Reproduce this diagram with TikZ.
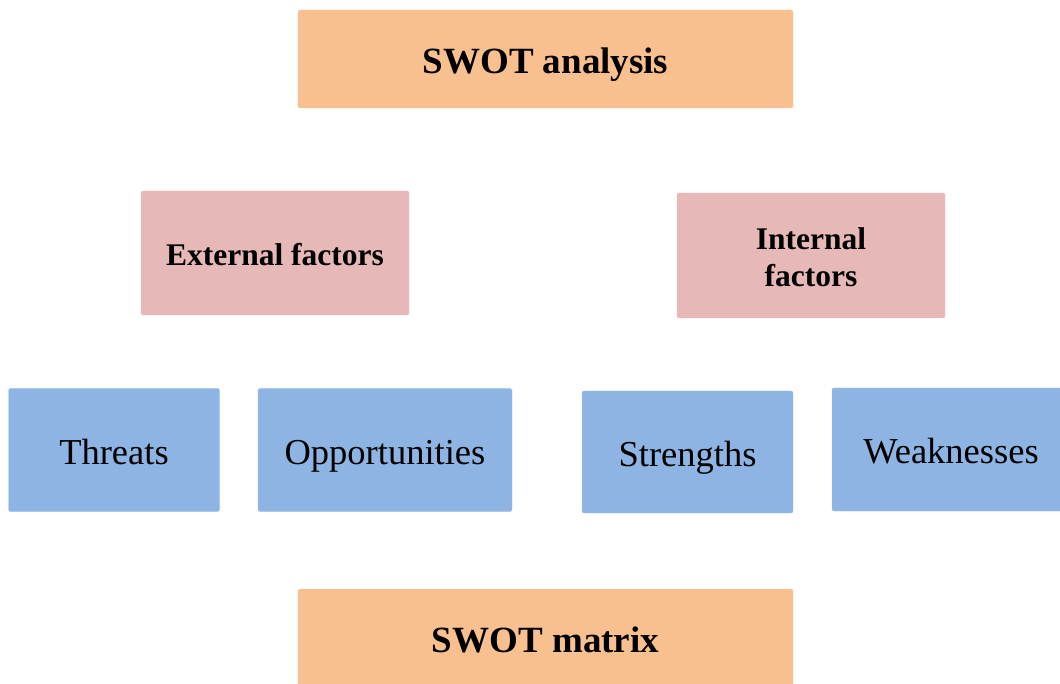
\documentclass[tikz,border=0pt]{standalone}
\usepackage{fontspec}
\setmainfont{Liberation Serif}
\definecolor{orangebox}{HTML}{F9C08F}
\definecolor{pinkbox}{HTML}{E6B8B7}
\definecolor{bluebox}{HTML}{8EB4E3}
\begin{document}
\begin{tikzpicture}[x=1pt,y=-1pt,
  box/.style={rectangle, rounded corners=2pt, inner sep=0pt},
  titlebox/.style={box, fill=orangebox, draw=orangebox!80!white},
  factorbox/.style={box, fill=pinkbox, draw=pinkbox!80!white},
  itembox/.style={box, fill=bluebox, draw=bluebox!80!white},
  titletext/.style={inner sep=0pt, align=center, font=\fontsize{37}{44}\selectfont\bfseries, text height=24.5pt, text depth=0pt},
  factortext/.style={inner sep=0pt, align=center, font=\fontsize{31.5}{37}\selectfont\bfseries, text height=20.9pt, text depth=0pt},
  itemtext/.style={inner sep=0pt, align=center, font=\fontsize{36.5}{42}\selectfont, text height=24.2pt, text depth=0pt}]
\useasboundingbox (0,0) rectangle (1060,684);
\node[titlebox, minimum width=495pt, minimum height=98pt] (swot) at (545.5,59) {};
\node[titletext] (swott) at ([yshift=-2pt]swot.center) {SWOT analysis};
\node[factorbox, minimum width=268pt, minimum height=124pt] (ext) at (275,253) {};
\node[factortext] (extt) at ([yshift=-2pt]ext.center) {External factors};
\node[factorbox, minimum width=268pt, minimum height=125pt] (int) at (811,255.5) {};
\node[factortext, text height=57.9pt] (intt) at ([yshift=-2pt]int.center) {Internal\\factors};
\node[itembox, minimum width=211pt, minimum height=123pt] (thr) at (114,450) {};
\node[itemtext] (thrt) at ([yshift=-2pt]thr.center) {Threats};
\node[itembox, minimum width=254pt, minimum height=123pt] (opp) at (385,450) {};
\node[itemtext] (oppt) at ([yshift=-2pt]opp.center) {Opportunities};
\node[itembox, minimum width=211pt, minimum height=122pt] (str) at (687.5,452) {};
\node[itemtext] (strt) at ([yshift=-2pt]str.center) {Strengths};
\node[itembox, minimum width=238pt, minimum height=123pt] (weak) at (951,449.5) {};
\node[itemtext] (weakt) at ([yshift=-2pt]weak.center) {Weaknesses};
\node[titlebox, minimum width=495pt, minimum height=98pt] (matrix) at (545.5,638) {};
\node[titletext] (matrixt) at ([yshift=-2pt]matrix.center) {SWOT matrix};
\end{tikzpicture}
\end{document}
